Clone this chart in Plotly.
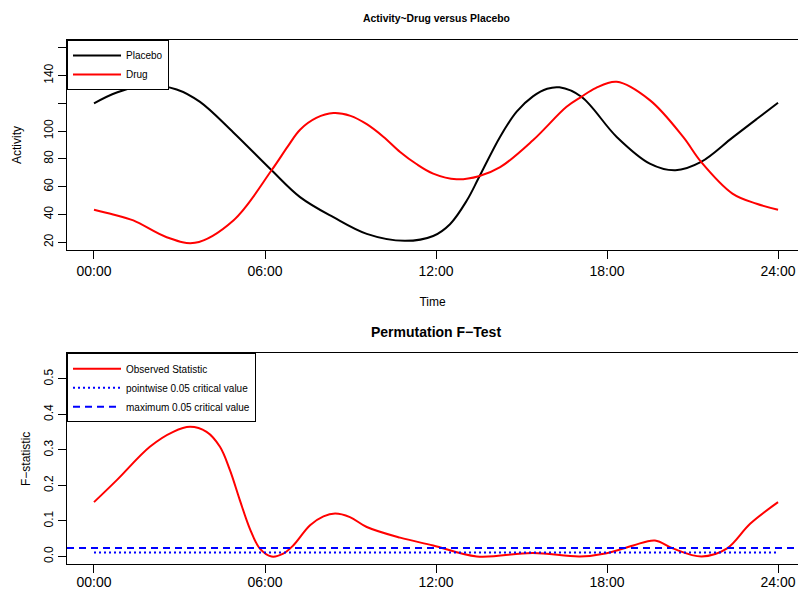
import plotly.graph_objects as go

# ---------------- data ----------------
placebo_time = [0, 0.8, 1.85, 2.9, 3.72, 4.89, 6.23, 7.23, 8.4, 9.57, 10.9, 11.9, 12.49, 13.08,
                13.49, 14.25, 14.83, 15.4, 15.9, 16.33, 17.1, 18.34, 19.5, 20.4, 21.3, 22.4,
                23.25, 24]
placebo = [120, 127.8, 133, 130, 121, 99, 71.8, 52.5, 38, 26, 21, 24.5, 33, 50,
           66, 96, 114, 125, 130.5, 131.5, 124.7, 95.8, 76.6, 71.8, 77.8, 95.3,
           108.7, 120.4]

drug_time = [0, 0.67, 1.38, 2.55, 3.54, 4.89, 6.23, 6.8, 7.23, 7.8, 8.4, 9.0, 9.57, 10.15,
             10.74, 11.3, 11.9, 12.72, 13.5, 14.25, 15.4, 16.58, 17.1, 17.6, 18.34, 19.5,
             20.67, 21.3, 22.4, 23.25, 24]
drug = [43.4, 40, 35.7, 23.6, 19.6, 35.7, 71.8, 89, 101, 109.5, 113, 111, 105, 96,
        85, 76.5, 69.4, 65.3, 67.5, 74, 93.4, 117.5, 124.7, 131, 135.5, 122.3,
        95.8, 77.8, 55, 47.7, 43.4]

fstat_time = [0, 0.8, 1.96, 2.78, 3.37, 3.95, 4.42, 4.77, 5.12, 5.47, 5.82, 6.23, 6.64, 6.99,
              7.58, 8.05, 8.46, 8.98, 9.57, 10.74, 11.9, 13.43, 15.4, 17.05, 17.99, 18.92,
              19.68, 20.33, 21.32, 22.2, 23.02, 24]
fstat = [0.153, 0.215, 0.309, 0.351, 0.365, 0.351, 0.309, 0.243, 0.158, 0.078, 0.022, 0.0,
         0.008, 0.031, 0.088, 0.113, 0.121, 0.111, 0.083, 0.053, 0.031, 0.0, 0.010, 0.0,
         0.009, 0.031, 0.045, 0.022, 0.0, 0.022, 0.092, 0.153]

pointwise_time = [0, 6, 12, 18, 24]
pointwise_crit = [0.011, 0.011, 0.011, 0.011, 0.011]
maximum_crit = 0.024

time_ticks = [0, 6, 12, 18, 24]
time_tick_labels = ["00:00", "06:00", "12:00", "18:00", "24:00"]
activity_ticks = [20, 40, 60, 80, 100, 120, 140, 160]
activity_tick_labels = ["20", "40", "60", "80", "100", "", "140", ""]
f_ticks = [0.0, 0.1, 0.2, 0.3, 0.4, 0.5]
f_tick_labels = ["0.0", "0.1", "0.2", "0.3", "0.4", "0.5"]

# ---------------- figure ----------------
W, H = 798, 591
FONT = "Liberation Sans, Arial, Helvetica, sans-serif"

def px_x(p):
    return p / W

def px_y(p):
    return (H - p) / H

fig = go.Figure()

fig.add_trace(go.Scatter(x=placebo_time, y=placebo, mode="lines", name="Placebo",
                         line=dict(color="black", width=2, shape="spline", smoothing=1.0),
                         xaxis="x", yaxis="y", legend="legend"))
fig.add_trace(go.Scatter(x=drug_time, y=drug, mode="lines", name="Drug",
                         line=dict(color="#ff0000", width=2, shape="spline", smoothing=1.0),
                         xaxis="x", yaxis="y", legend="legend"))

fig.add_trace(go.Scatter(x=fstat_time, y=fstat, mode="lines", name="Observed Statistic",
                         line=dict(color="#ff0000", width=2, shape="spline", smoothing=1.0),
                         xaxis="x2", yaxis="y2", legend="legend2", legendrank=1))
fig.add_trace(go.Scatter(x=pointwise_time, y=pointwise_crit, mode="lines",
                         name="pointwise 0.05 critical value",
                         line=dict(color="#0000ff", width=2, dash="2px,3px"),
                         xaxis="x2", yaxis="y2", legend="legend2", legendrank=2))
fig.add_shape(type="line", xref="x2 domain", x0=0, x1=1, yref="y2", y0=maximum_crit, y1=maximum_crit,
              line=dict(color="#0000ff", width=2, dash="7px,5px"),
              showlegend=True, name="maximum 0.05 critical value", legend="legend2", legendrank=3)

xdom = [px_x(67), 1.0]
x_range = [-0.947, 24.70]

axis_common = dict(showline=True, linecolor="black", linewidth=1, ticks="outside", ticklen=8,
                   tickcolor="black", tickwidth=1, showgrid=False, zeroline=False,
                   automargin=False)

fig.update_layout(
    width=W, height=H, autosize=False,
    margin=dict(l=0, r=0, t=0, b=0, autoexpand=False),
    paper_bgcolor="white", plot_bgcolor="white",
    font=dict(family=FONT, color="black"),
    xaxis=dict(domain=xdom, range=x_range, anchor="y", mirror=True,
               tickvals=time_ticks, ticktext=time_tick_labels, tickfont=dict(size=14),
               title=dict(text="Time", font=dict(size=12), standoff=19), **axis_common),
    yaxis=dict(domain=[px_y(250), px_y(40)], range=[14.4, 165.6], anchor="x",
               tickvals=activity_ticks, ticktext=activity_tick_labels, tickangle=-90,
               tickfont=dict(size=12),
               title=dict(text="Activity", font=dict(size=12), standoff=18), **axis_common),
    xaxis2=dict(domain=xdom, range=x_range, anchor="y2", mirror=True,
                tickvals=time_ticks, ticktext=time_tick_labels, tickfont=dict(size=14),
                ticklabelstandoff=-3, **axis_common),
    yaxis2=dict(domain=[px_y(564.3), px_y(353.3)], range=[-0.022, 0.572], anchor="x2",
                tickvals=f_ticks, ticktext=f_tick_labels, tickangle=-90, tickfont=dict(size=12),
                title=dict(text="F\u2212statistic", font=dict(size=12), standoff=8.5), **axis_common),
    legend=dict(x=px_x(67), y=px_y(40), xanchor="left", yanchor="top",
                bordercolor="black", borderwidth=1, bgcolor="white",
                font=dict(size=10), itemwidth=48, tracegroupgap=0),
    legend2=dict(x=px_x(67), y=px_y(353.3), xanchor="left", yanchor="top",
                 bordercolor="black", borderwidth=1, bgcolor="white",
                 font=dict(size=10), itemwidth=48, tracegroupgap=0),
    annotations=[
        dict(text="<b>Activity~Drug versus Placebo</b>", x=px_x(436), y=px_y(19),
             xref="paper", yref="paper", xanchor="center", yanchor="middle",
             showarrow=False, font=dict(size=10.4)),
        dict(text="<b>Permutation F\u2212Test</b>", x=px_x(436), y=px_y(332),
             xref="paper", yref="paper", xanchor="center", yanchor="middle",
             showarrow=False, font=dict(size=14)),
    ],
)

fig.write_html("out.html", config={"displayModeBar": False},
               post_script="document.body.style.margin='0';document.body.style.padding='0';")
